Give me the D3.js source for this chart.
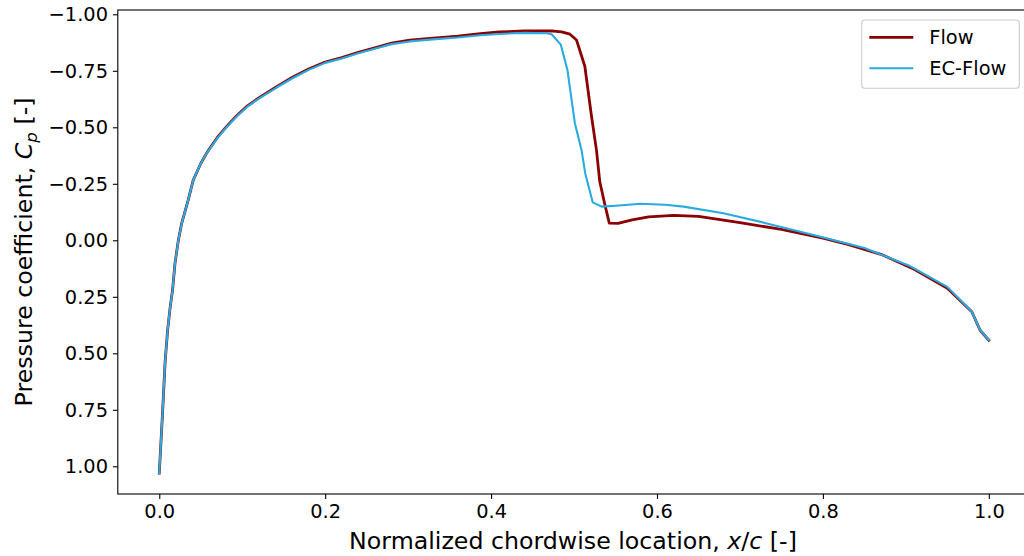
<!DOCTYPE html>
<html>
<head>
<meta charset="utf-8">
<script src="https://cdn.jsdelivr.net/npm/d3@7"></script>
<style>
  html, body { margin: 0; padding: 0; background: #fff; }
  svg { display: block; font-family: "DejaVu Sans", sans-serif; }
</style>
</head>
<body>
<svg id="chart" width="1024" height="556"></svg>
<script>
// ---------------- DATA ----------------
const flowX = [0, 0.004, 0.007, 0.010, 0.013, 0.016, 0.019, 0.023, 0.027, 0.035, 0.041, 0.050, 0.057, 0.061, 0.070, 0.081, 0.093, 0.105, 0.120, 0.1415, 0.160, 0.180, 0.200, 0.220, 0.240, 0.262, 0.280, 0.302, 0.330, 0.360, 0.387, 0.410, 0.440, 0.460, 0.475, 0.485, 0.495, 0.503, 0.513, 0.521, 0.527, 0.531, 0.537, 0.5425, 0.553, 0.570, 0.590, 0.620, 0.650, 0.700, 0.750, 0.800, 0.830, 0.870, 0.910, 0.950, 0.9795, 0.9895, 1.0];
const flowCp = [1.03, 0.76, 0.54, 0.40, 0.30, 0.22, 0.10, 0.0, -0.075, -0.18, -0.267, -0.34, -0.385, -0.407, -0.455, -0.503, -0.55, -0.591, -0.63, -0.68, -0.72, -0.758, -0.789, -0.808, -0.832, -0.854, -0.872, -0.886, -0.895, -0.903, -0.914, -0.922, -0.926, -0.927, -0.926, -0.922, -0.912, -0.886, -0.77, -0.55, -0.40, -0.26, -0.16, -0.076, -0.075, -0.09, -0.104, -0.11, -0.106, -0.078, -0.048, -0.010, 0.018, 0.062, 0.128, 0.212, 0.316, 0.398, 0.442];

const ecX = [0, 0.004, 0.007, 0.010, 0.013, 0.016, 0.019, 0.023, 0.027, 0.035, 0.041, 0.050, 0.057, 0.061, 0.070, 0.081, 0.093, 0.105, 0.120, 0.1415, 0.160, 0.180, 0.200, 0.220, 0.240, 0.262, 0.280, 0.302, 0.330, 0.360, 0.387, 0.410, 0.440, 0.467, 0.473, 0.484, 0.492, 0.501, 0.509, 0.5135, 0.5225, 0.5334, 0.550, 0.580, 0.610, 0.632, 0.680, 0.730, 0.790, 0.850, 0.905, 0.950, 0.9795, 0.9895, 1.0];
const ecCp = [1.03, 0.76, 0.54, 0.40, 0.30, 0.22, 0.10, 0.0, -0.075, -0.18, -0.267, -0.34, -0.385, -0.405, -0.452, -0.50, -0.547, -0.588, -0.627, -0.676, -0.716, -0.754, -0.785, -0.804, -0.828, -0.85, -0.868, -0.88, -0.889, -0.897, -0.907, -0.913, -0.918, -0.916, -0.912, -0.866, -0.754, -0.518, -0.40, -0.296, -0.168, -0.149, -0.153, -0.162, -0.157, -0.149, -0.12, -0.077, -0.022, 0.034, 0.114, 0.206, 0.316, 0.397, 0.441];

const seriesNames = ["Flow", "EC-Flow"];
const seriesColors = ["#8b0000", "#29abe2"];
const xTicks = [0.0, 0.2, 0.4, 0.6, 0.8, 1.0];
const yTicks = [-1.0, -0.75, -0.5, -0.25, 0.0, 0.25, 0.5, 0.75, 1.0];

// ---------------- LAYOUT ----------------
const svg = d3.select("#chart");
const plot = { left: 117.8, right: 1030.3, top: 10, bottom: 494 };

const x = d3.scaleLinear().domain([-0.05, 1.05]).range([plot.left, plot.right]);
const y = d3.scaleLinear().domain([-1.019, 1.1225]).range([plot.top, plot.bottom]);

svg.append("rect").attr("width", 1024).attr("height", 556).attr("fill", "#fff");

svg.append("defs").append("clipPath").attr("id", "clip")
  .append("rect").attr("x", plot.left).attr("y", plot.top)
  .attr("width", plot.right - plot.left).attr("height", plot.bottom - plot.top);

const fontSize = 19.4;
const labelSize = 23.7;
const minus = s => s.replace("-", "\u2212");

// X axis
const xAxis = d3.axisBottom(x).tickValues(xTicks).tickFormat(d3.format(".1f"))
  .tickSizeInner(4.9).tickSizeOuter(0).tickPadding(4.9);
const gx = svg.append("g").attr("transform", `translate(0,${plot.bottom})`).call(xAxis);
gx.select(".domain").remove();
gx.selectAll(".tick line").attr("stroke", "#000").attr("stroke-width", 1.1);
gx.selectAll(".tick text").attr("font-size", fontSize).attr("fill", "#000")
  .attr("font-family", "DejaVu Sans").text(d => minus(d3.format(".1f")(d)));

// Y axis
const yAxis = d3.axisLeft(y).tickValues(yTicks)
  .tickSizeInner(4.9).tickSizeOuter(0).tickPadding(4.9);
const gy = svg.append("g").attr("transform", `translate(${plot.left},0)`).call(yAxis);
gy.select(".domain").remove();
gy.selectAll(".tick line").attr("stroke", "#000").attr("stroke-width", 1.1);
gy.selectAll(".tick text").attr("font-size", fontSize).attr("fill", "#000")
  .attr("font-family", "DejaVu Sans").text(d => minus(d3.format(".2f")(d)));

// Lines
const line = d3.line().x(d => x(d[0])).y(d => y(d[1])).curve(d3.curveLinear);
const flowData = flowX.map((v, i) => [v, flowCp[i]]);
const ecData = ecX.map((v, i) => [v, ecCp[i]]);

const gLines = svg.append("g").attr("clip-path", "url(#clip)");
gLines.append("path").datum(flowData).attr("d", line)
  .attr("fill", "none").attr("stroke", seriesColors[0]).attr("stroke-width", 2.8)
  .attr("stroke-linejoin", "round").attr("stroke-linecap", "square");
gLines.append("path").datum(ecData).attr("d", line)
  .attr("fill", "none").attr("stroke", seriesColors[1]).attr("stroke-width", 2.1)
  .attr("stroke-linejoin", "round").attr("stroke-linecap", "square");

// Spines
svg.append("rect").attr("x", plot.left).attr("y", plot.top)
  .attr("width", plot.right - plot.left).attr("height", plot.bottom - plot.top)
  .attr("fill", "none").attr("stroke", "#000").attr("stroke-width", 1.1);

// Axis labels
const xl = svg.append("text").attr("x", 573).attr("y", 549)
  .attr("text-anchor", "middle").attr("font-size", labelSize).attr("fill", "#000");
xl.append("tspan").text("Normalized chordwise location, ");
xl.append("tspan").attr("font-style", "italic").text("x");
xl.append("tspan").text("/");
xl.append("tspan").attr("font-style", "italic").text("c");
xl.append("tspan").text(" [-]");

const yl = svg.append("text")
  .attr("transform", `translate(32,${(plot.top + plot.bottom) / 2}) rotate(-90)`)
  .attr("text-anchor", "middle").attr("font-size", labelSize).attr("fill", "#000");
yl.append("tspan").text("Pressure coefficient, ");
yl.append("tspan").attr("font-style", "italic").text("C");
yl.append("tspan").attr("font-style", "italic").attr("font-size", labelSize * 0.7).attr("dy", 5).text("p");
yl.append("tspan").attr("dy", -5).text(" [-]");

// Legend
const lg = svg.append("g");
lg.append("rect").attr("x", 861.7).attr("y", 20).attr("width", 157.6).attr("height", 68.3)
  .attr("rx", 3).attr("fill", "#fff").attr("fill-opacity", 0.8)
  .attr("stroke", "#cccccc").attr("stroke-width", 1.1);
seriesNames.forEach((name, i) => {
  const cy = 37.3 + i * 31;
  lg.append("line").attr("x1", 869.3).attr("x2", 913.3).attr("y1", cy).attr("y2", cy)
    .attr("stroke", seriesColors[i]).attr("stroke-width", i === 0 ? 2.8 : 2.1);
  lg.append("text").attr("x", 929.3).attr("y", cy).attr("dy", "0.35em")
    .attr("font-size", fontSize).attr("fill", "#000").text(name);
});
</script>
</body>
</html>
